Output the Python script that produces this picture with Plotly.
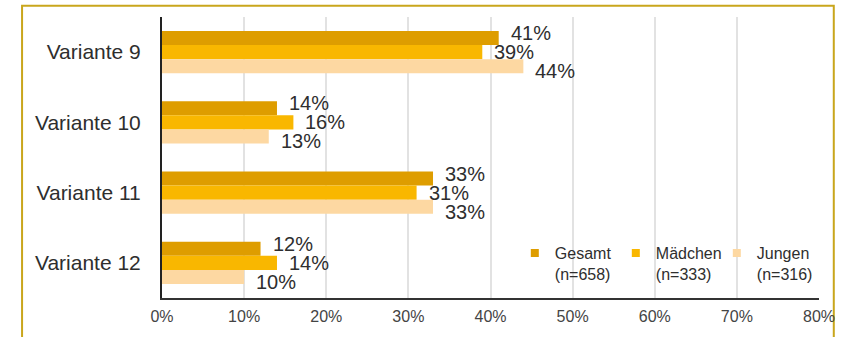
import plotly.graph_objects as go

categories = ["Variante 9", "Variante 10", "Variante 11", "Variante 12"]
gesamt = [41, 14, 33, 12]
maedchen = [39, 16, 31, 14]
jungen = [44, 13, 33, 10]
series_names = ["Gesamt<br>(n=658)", "Mädchen<br>(n=333)", "Jungen<br>(n=316)"]
colors = ["#DE9D00", "#F9B700", "#FDD8A2"]
x_ticks = [0, 10, 20, 30, 40, 50, 60, 70, 80]
x_tick_labels = [f"{t}%" for t in x_ticks]

FONT = "Liberation Sans, Arial, sans-serif"
TEXT = "#2E2E2E"
# vertical offset (px) of each series' value labels inside a category group
label_shift = [19, 0, -19]

fig = go.Figure()
annotations = []
for name, vals, col, dy in zip(series_names, [gesamt, maedchen, jungen], colors, label_shift):
    fig.add_trace(go.Bar(
        y=categories, x=vals, orientation="h", name=name,
        marker=dict(color=col, line=dict(width=0)),
        showlegend=False,
    ))
    # square legend swatch
    fig.add_trace(go.Scatter(
        x=[None], y=[None], mode="markers", name=name,
        marker=dict(symbol="square", size=8, color=col),
    ))
    for cat, v in zip(categories, vals):
        annotations.append(dict(
            x=v, y=cat, xref="x", yref="y", text=f"{v}%", showarrow=False,
            xanchor="left", yanchor="middle", xshift=10, yshift=dy,
            font=dict(family=FONT, size=20, color=TEXT),
        ))

fig.update_layout(
    width=847, height=337,
    margin=dict(l=162, r=25, t=17, b=39),
    paper_bgcolor="white", plot_bgcolor="white",
    barmode="group", bargap=0.40, bargroupgap=0,
    font=dict(family=FONT, color=TEXT),
    legend=dict(
        orientation="h", x=0.537, y=0.22, xanchor="left", yanchor="top",
        font=dict(family=FONT, size=16, color=TEXT),
        entrywidth=56, itemwidth=30, valign="top",
        bgcolor="rgba(0,0,0,0)", traceorder="normal",
    ),
    xaxis=dict(
        range=[0, 80], tickvals=x_ticks, ticktext=x_tick_labels,
        showgrid=True, gridcolor="#E2E2E2", gridwidth=2,
        zeroline=False, showline=True, linecolor="#333333", linewidth=2,
        ticks="", tickfont=dict(family=FONT, size=16, color="#444444"),
        ticklabelstandoff=3,
    ),
    yaxis=dict(
        autorange="reversed", showgrid=False, zeroline=False,
        showline=True, linecolor="#222222", linewidth=2, ticks="",
        tickfont=dict(family=FONT, size=21, color=TEXT),
        ticklabelstandoff=15,
    ),
    annotations=annotations,
    shapes=[dict(
        type="rect", xref="paper", yref="paper",
        x0=-0.213, x1=1.0225, y0=-0.5, y1=1.04,
        line=dict(color="#C9A61C", width=2), fillcolor="rgba(0,0,0,0)",
        layer="below",
    )],
)

fig.write_html("out.html")
